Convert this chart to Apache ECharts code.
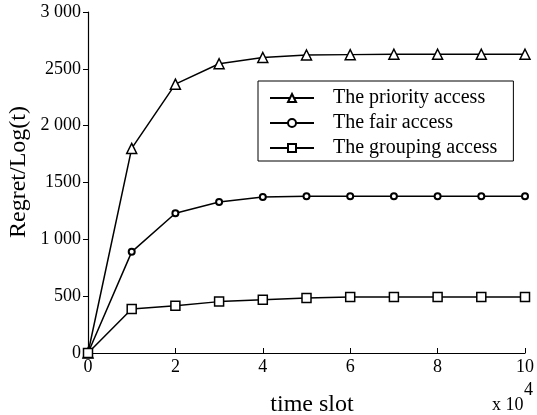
<!DOCTYPE html>
<html>
<head>
<meta charset="utf-8">
<script src="https://cdn.jsdelivr.net/npm/echarts@6/dist/echarts.min.js"></script>
<style>
  html, body { margin: 0; padding: 0; background: #fff; }
  #chart { width: 537px; height: 415px; }
</style>
</head>
<body>
<div id="chart"></div>
<script>
(function () {
    "use strict";

    // ---- data (x in units of 10^4 time slots) ----
    const timeSlots = [0, 1, 2, 3, 4, 5, 6, 7, 8, 9, 10];
    const priorityAccess = [0, 1800, 2365, 2545, 2600, 2622, 2625, 2628, 2628, 2628, 2628];
    const fairAccess = [0, 890, 1230, 1328, 1372, 1378, 1380, 1380, 1380, 1380, 1380];
    const groupingAccess = [0, 387, 416, 452, 468, 484, 492, 492, 492, 492, 492];
    const seriesNames = ["The priority access", "The fair access", "The grouping access"];
    const yTickLabels = { 0: "0", 500: "500", 1000: "1 000", 1500: "1500", 2000: "2 000", 2500: "2500", 3000: "3 000" };

    const FONT = "Liberation Serif";
    const INK = "#000";

    function pairs(values) {
        return timeSlots.map((x, i) => [x, values[i]]);
    }

    function lineSeries(name, values, symbol, size, border) {
        return {
            name: name,
            type: "line",
            data: pairs(values),
            symbol: symbol,
            symbolSize: size,
            showAllSymbol: true,
            clip: false,
            lineStyle: { color: INK, width: 1.5 },
            itemStyle: { color: "#fff", borderColor: INK, borderWidth: border },
            emphasis: { disabled: true },
            animation: false
        };
    }

    const chart = echarts.init(document.getElementById("chart"));
    chart.setOption({
        backgroundColor: "#fff",
        animation: false,
        grid: { left: 88, right: 11, top: 12, bottom: 62 },
        xAxis: {
            type: "value",
            min: 0, max: 10, interval: 2,
            axisLine: { lineStyle: { color: INK, width: 1.2 } },
            axisTick: { inside: true, length: 5, lineStyle: { color: INK } },
            axisLabel: { color: INK, fontFamily: FONT, fontSize: 18, margin: 5 },
            splitLine: { show: false }
        },
        yAxis: {
            type: "value",
            min: 0, max: 3000, interval: 500,
            axisLine: { show: true, lineStyle: { color: INK, width: 1.2 } },
            axisTick: { show: true, length: 5, lineStyle: { color: INK } },
            axisLabel: {
                color: INK, fontFamily: FONT, fontSize: 18, margin: 7,
                formatter: v => yTickLabels[v] ?? String(v)
            },
            splitLine: { show: false }
        },
        legend: {
            data: seriesNames,
            orient: "vertical",
            left: 258, top: 81,
            padding: [7, 16, 3, 11],
            itemWidth: 44, itemHeight: 10, itemGap: 5,
            borderColor: INK, borderWidth: 1,
            backgroundColor: "#fff",
            textStyle: { color: INK, fontFamily: FONT, fontSize: 20, lineHeight: 20, padding: [0, 0, 0, 14] },
            selectedMode: false
        },
        graphic: [
            {
                type: "text", x: 19, y: 172,
                rotation: Math.PI / 2,
                style: { text: "Regret/Log(t)", font: "24px Liberation Serif", fill: INK, align: "center", verticalAlign: "middle" }
            },
            {
                type: "text", x: 312, y: 405,
                style: { text: "time slot", font: "24px Liberation Serif", fill: INK, align: "center", verticalAlign: "middle" }
            },
            {
                type: "text", x: 492, y: 405,
                style: { text: "x 10", font: "18px Liberation Serif", fill: INK, verticalAlign: "middle" }
            },
            {
                type: "text", x: 524, y: 390,
                style: { text: "4", font: "18px Liberation Serif", fill: INK, verticalAlign: "middle" }
            }
        ],
        series: [
            lineSeries(seriesNames[0], priorityAccess, "triangle", 10, 1.5),
            lineSeries(seriesNames[1], fairAccess, "circle", 6, 2),
            lineSeries(seriesNames[2], groupingAccess, "rect", 9, 1.5)
        ]
    });
})();
</script>
</body>
</html>
